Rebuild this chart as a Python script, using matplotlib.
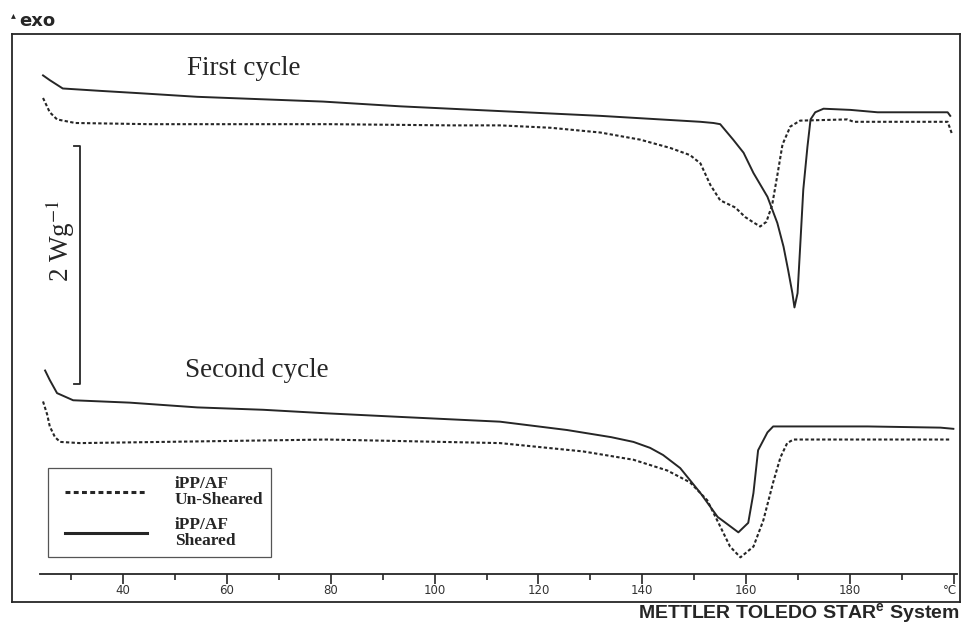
import matplotlib
matplotlib.use('Agg')
import matplotlib.pyplot as plt
from matplotlib.lines import Line2D
from matplotlib.legend_handler import HandlerLine2D

plt.rcParams['mathtext.fontset'] = 'stix'

# DSC traces: temperature (degC) and heat flow (W/g, shifted)
c1_sheared_t = [24.6, 25.9, 28.4, 35.6, 43.3, 54.3, 66.4, 78.5, 93.4, 112.6, 131.9,
                151.2, 153.7, 155.0, 157.5, 159.5, 161.4, 164.1, 166.0, 167.2, 168.1,
                168.9, 169.3, 169.9, 170.4, 171.0, 171.8, 172.4, 173.3, 174.9, 180.1,
                185.3, 198.8, 199.3]
c1_sheared_hf = [4.19, 4.15, 4.08, 4.06, 4.04, 4.01, 3.99, 3.97, 3.93, 3.89, 3.85,
                 3.80, 3.79, 3.78, 3.65, 3.54, 3.37, 3.17, 2.95, 2.75, 2.55,
                 2.36, 2.24, 2.36, 2.75, 3.23, 3.59, 3.82, 3.88, 3.91, 3.90,
                 3.88, 3.88, 3.85]

c1_unsheared_t = [24.6, 25.9, 27.3, 30.8, 45.2, 79.9, 103.0, 112.6, 122.3, 131.9,
                  139.6, 145.4, 149.2, 151.2, 153.1, 155.0, 157.9, 159.8, 161.2,
                  162.7, 163.9, 165.0, 166.0, 167.0, 168.5, 170.4, 179.5, 180.7,
                  198.8, 199.7]
c1_unsheared_hf = [4.00, 3.88, 3.82, 3.79, 3.78, 3.78, 3.77, 3.77, 3.75, 3.71,
                   3.65, 3.58, 3.52, 3.45, 3.27, 3.14, 3.08, 3.00, 2.96,
                   2.92, 2.96, 3.10, 3.35, 3.61, 3.76, 3.81, 3.82, 3.80,
                   3.80, 3.69]

c2_sheared_t = [25.0, 25.9, 27.3, 30.4, 41.3, 54.3, 67.0, 79.3, 93.4, 112.6, 125.5,
                134.0, 138.3, 141.5, 144.0, 147.3, 151.2, 154.5, 158.5, 160.4, 161.4,
                162.3, 164.1, 165.2, 183.4, 197.4, 199.9]
c2_sheared_hf = [1.71, 1.63, 1.52, 1.46, 1.44, 1.40, 1.38, 1.35, 1.32, 1.28, 1.21,
                 1.15, 1.11, 1.06, 1.00, 0.89, 0.68, 0.48, 0.35, 0.43, 0.68,
                 1.04, 1.19, 1.24, 1.24, 1.23, 1.22]

c2_unsheared_t = [24.6, 25.4, 25.9, 26.9, 27.9, 31.7, 47.7, 79.3, 112.6, 128.6, 138.3,
                  144.8, 149.2, 152.5, 155.0, 156.9, 158.9, 161.4, 163.3, 165.2,
                  166.6, 167.9, 169.1, 199.3]
c2_unsheared_hf = [1.45, 1.34, 1.24, 1.15, 1.11, 1.10, 1.11, 1.13, 1.10, 1.03, 0.96,
                   0.87, 0.77, 0.62, 0.40, 0.23, 0.14, 0.23, 0.45, 0.77,
                   0.98, 1.10, 1.13, 1.13]

labels = ['iPP/AF\nUn-Sheared', 'iPP/AF\nSheared']
major_ticks = [40, 60, 80, 100, 120, 140, 160, 180]
minor_ticks = [30, 50, 70, 90, 110, 130, 150, 170, 190]
unit_tick = 200

scale_t = 31.7          # where the 2 W/g bar stands
scale_top = 3.6
scale_len = 2.0

W_PX, H_PX = 967, 626
ink = '#262626'


def fx(x):
    return x / W_PX


def fy(y):
    return 1 - y / H_PX


def box(x0, y0, x1, y1):
    return [fx(x0), fy(y1), (x1 - x0) / W_PX, (y1 - y0) / H_PX]


# pixel <-> data calibration of the scan (40 degC at x=123, 5.193 px/degC, 119 px per W/g)
def t_at(px):
    return 40 + (px - 123) / 5.193


def hf_at(py):
    return (574 - py) / 119


fig = plt.figure(figsize=(9.67, 6.26), dpi=100)

ax = fig.add_axes(box(12, 34, 960, 602))
ax.set_xlim(t_at(12), t_at(960))
ax.set_ylim(hf_at(602), hf_at(34))
ax.set_xticks([])
ax.set_yticks([])
for s in ax.spines.values():
    s.set_color(ink)
    s.set_linewidth(1.3)

dots = (0, (1.6, 1.1))
l1, = ax.plot(c1_unsheared_t, c1_unsheared_hf, color=ink, lw=1.5, ls=dots)
l2, = ax.plot(c1_sheared_t, c1_sheared_hf, color=ink, lw=1.4)
ax.plot(c2_unsheared_t, c2_unsheared_hf, color=ink, lw=1.5, ls=dots)
ax.plot(c2_sheared_t, c2_sheared_hf, color=ink, lw=1.4)

# 2 W/g scale bracket
ax.plot([scale_t - 1.1, scale_t, scale_t, scale_t - 1.1],
        [scale_top, scale_top, scale_top - scale_len, scale_top - scale_len],
        color=ink, lw=1.3)

leg = ax.legend([l1, l2], labels, loc='upper left',
                bbox_to_anchor=(fx(48), fy(468)), bbox_transform=fig.transFigure,
                borderaxespad=0, borderpad=0.45, handlelength=5.25,
                handletextpad=1.6, labelspacing=0.55, fancybox=False,
                framealpha=1, edgecolor='#555555',
                handler_map={Line2D: HandlerLine2D(xpad=0.53)},
                prop={'family': 'Liberation Serif', 'weight': 'bold', 'size': 12.5})
leg.get_frame().set_linewidth(0.9)
for t in leg.get_texts():
    t.set_linespacing(1.0)
    t.set_color(ink)
for h in leg.get_lines():
    h.set_linewidth(2.2)

# temperature strip under the plot
axs = fig.add_axes(box(40, 574, 957, 602))
axs.set_xlim(t_at(40), t_at(957))
axs.set_ylim(0, 1)
axs.patch.set_visible(False)
for k in ['left', 'right', 'bottom']:
    axs.spines[k].set_visible(False)
axs.spines['top'].set_color(ink)
axs.spines['top'].set_linewidth(1.3)
axs.set_yticks([])
axs.set_xticks(major_ticks + [unit_tick])
axs.set_xticks(minor_ticks, minor=True)
axs.tick_params(axis='x', which='both', top=True, bottom=False, labelbottom=False,
                direction='in', color=ink, width=1.2)
axs.tick_params(axis='x', which='major', length=7)
axs.tick_params(axis='x', which='minor', length=4)
for t in major_ticks:
    axs.text(t, 0.42, str(t), transform=axs.get_xaxis_transform(),
             ha='center', va='center', fontsize=8.5, color='#333333')
axs.text(unit_tick - 0.8, 0.42, '°C', transform=axs.get_xaxis_transform(),
         ha='center', va='center', fontsize=8.5, color='#333333')

serif = 'Liberation Serif'
fig.text(fx(187), fy(75), 'First cycle', family=serif, fontsize=19.5,
         color=ink, va='baseline')
fig.text(fx(185), fy(377), 'Second cycle', family=serif, fontsize=19.5,
         color=ink, va='baseline')
fig.text(fx(60), fy(241), '2 Wg$^{-1}$', family=serif, fontsize=19.5,
         color=ink, rotation=90, ha='center', va='center')

fig.text(fx(11), fy(18), '▴', family='DejaVu Sans', fontsize=7, color=ink,
         va='baseline')
fig.text(fx(19), fy(26), 'exo', family='DejaVu Sans', fontsize=13,
         weight='bold', color=ink, va='baseline')
fig.text(fx(960), fy(619), 'METTLER TOLEDO STAR$^{\\mathregular{e}}$ System',
         family='Liberation Sans', fontsize=14, weight='bold', color=ink,
         ha='right', va='baseline')

fig.savefig('out.png', dpi=100)
